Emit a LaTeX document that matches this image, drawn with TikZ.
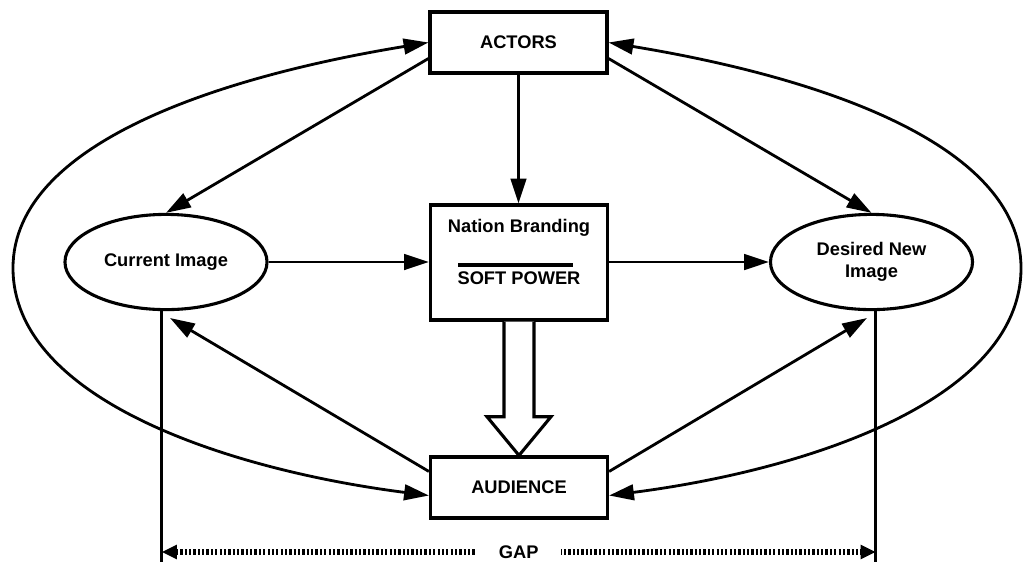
\documentclass[tikz,border=0pt]{standalone}
\usepackage{fontspec}
\setmainfont{Liberation Sans}
\usepackage{tikz}
\usetikzlibrary{arrows.meta}
\usetikzlibrary{positioning,calc,shapes.geometric}

\tikzset{
	lbl/.style={font=\bfseries\fontsize{13}{15.6}\selectfont},
	blk/.style={lbl, draw, line width=2.4pt, minimum width=4.42cm, inner sep=0pt},
	oval/.style={lbl, draw, ellipse, line width=2.2pt, minimum width=5.05cm, minimum height=2.38cm, inner sep=0pt, align=center},
	conn/.style={line width=2pt, -{Triangle[length=6.2mm,width=3.9mm]}},
	loop/.style={line width=2pt, {Triangle[length=6.2mm,width=3.9mm]}-{Triangle[length=6.2mm,width=3.9mm]}},
	gapline/.style={line width=3.6pt, dash pattern=on 1.6pt off 1.5pt, {Triangle[length=3.8mm,width=3.4mm]}-{Triangle[length=3.8mm,width=3.4mm]}}
}

\begin{document}
\begin{tikzpicture}[x=0.025cm, y=-0.025cm, line join=miter]
	\useasboundingbox (0,0) rectangle (1023,562);
	\node[blk, minimum height=1.52cm] (actors) at (518.5,42.5) {ACTORS};
	\node[blk, minimum height=2.875cm] (brand) at (519,262.5) {};
	\node[lbl] (nb) at ($(brand.center)+(0,-35)$) {Nation Branding};
	\node[lbl] (sp) at ($(brand.center)+(0,16)$) {SOFT POWER};
	\draw[line width=2.2pt] ($(brand.center)+(-61,2.5)$) -- ++(115,0);
	\node[blk, minimum height=1.52cm] (audience) at (519,487.5) {AUDIENCE};
	\node[oval] (current) at (166,262) {Current Image};
	\node[oval] (desired) at (871.5,262) {Desired New\\Image};
	\coordinate (lfar) at (13,268);
	\coordinate (rfar) at (1021,268);
	\coordinate (curtip) at (170,318);
	\coordinate (destip) at (867,318);
	\coordinate (gapl) at (current.-95 |- 0,552);
	\coordinate (gapr) at (desired.-85 |- 0,552);

	\draw[loop] (actors.west) .. controls (230,75) and (13,140) .. (lfar) .. controls (13,400) and (230,470) .. ($(audience.west)+(0,8)$);
	\draw[loop] (actors.east) .. controls (807,75) and (1021,140) .. (rfar) .. controls (1021,400) and (807,470) .. ($(audience.east)+(0,8)$);

	\draw[conn] ($(actors.west)!0.5!(actors.south west)$) -- (current.north);
	\draw[conn] ($(actors.east)!0.5!(actors.south east)$) -- (desired.north);
	\draw[conn] (actors.south) -- (actors.south |- brand.north);
	\draw[conn] (current.east) -- (current.east -| brand.west);
	\draw[conn] (brand.east |- desired.west) -- (desired.west);
	\draw[conn] ($(audience.west)!0.5!(audience.north west)$) -- (curtip);
	\draw[conn] ($(audience.east)!0.5!(audience.north east)$) -- (destip);

	\draw[line width=2.2pt, fill=white] ($(brand.south)+(-15,0)$) -- ++(0,95) -- ++(-17,0) -- (audience.north) -- ($(brand.south)+(32,95)$) -- ++(-17,0) -- ($(brand.south)+(15,0)$);

	\draw[line width=2pt] (current.-95) -- (current.-95 |- 0,562);
	\draw[line width=2pt] (desired.-85) -- (desired.-85 |- 0,562);
	\draw[gapline] (gapl) -- (gapr) node[midway, lbl, fill=white, inner xsep=0.55cm, inner ysep=1pt] (gap) {GAP};
\end{tikzpicture}
\end{document}
